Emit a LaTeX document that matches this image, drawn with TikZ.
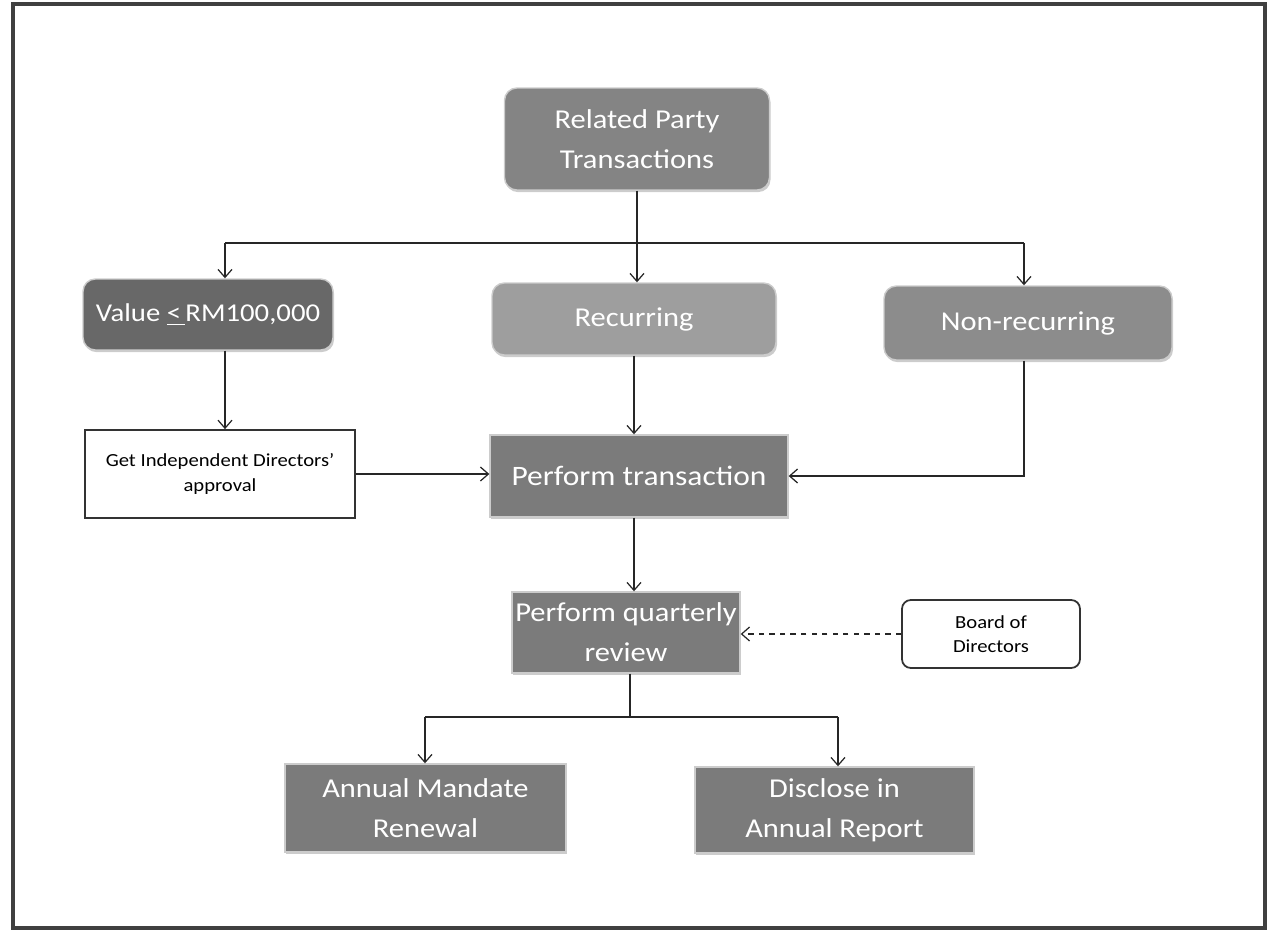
\documentclass[tikz,border=0pt]{standalone}
\usepackage{fontspec}
\setmainfont{Carlito}[FakeStretch=1.12]
\usetikzlibrary{arrows.meta,shadows}

\definecolor{rptgrey}{HTML}{848484}
\definecolor{valgrey}{HTML}{686868}
\definecolor{recgrey}{HTML}{9E9E9E}
\definecolor{nongrey}{HTML}{8C8C8C}
\definecolor{boxgrey}{HTML}{7B7B7B}

\begin{document}
\begin{tikzpicture}[x=0.02cm,y=-0.02cm,
		>={Straight Barb[length=1.6mm,width=2.8mm]},
		grey box/.style={draw=black!20, line width=0.8pt, text=white, align=center,
			font=\fontsize{15.5}{22.7}\selectfont, inner sep=0pt,
			drop shadow={shadow xshift=0.6pt, shadow yshift=-1.2pt, opacity=0.4}},
		round box/.style={grey box, rounded corners=7pt},
		note box/.style={draw=black!80, line width=1pt, fill=white, align=center,
			font=\fontsize{10.5}{13.8}\selectfont, inner sep=0pt},
		link/.style={->, line width=0.7pt, draw=black!85}]
		\useasboundingbox (0,0) rectangle (1279,933);
		\draw[line width=2pt, black!75] (13,4) rectangle (1265,928);

		\draw (637,139) node[round box, fill=rptgrey, minimum width=5.3cm, minimum height=2.04cm] (rpt) {Related Party\\Transactions};

		\draw (208,314.5) node[round box, fill=valgrey, minimum width=5cm, minimum height=1.42cm, font=\fontsize{14.6}{20}\selectfont] (val) {Value \underline{<\,}RM100,000};
		\draw (634,319) node[round box, fill=recgrey, minimum width=5.68cm, minimum height=1.44cm] (rec) {Recurring};
		\draw (1028,323) node[round box, fill=nongrey, minimum width=5.76cm, minimum height=1.48cm] (nonrec) {Non-recurring};

		\draw (220,474) node[note box, minimum width=5.4cm, minimum height=1.76cm] (getapp) {Get Independent Directors’\\approval};
		\draw (639,476) node[grey box, fill=boxgrey, minimum width=5.96cm, minimum height=1.64cm, font=\fontsize{16}{22}\selectfont] (perf) {Perform transaction};

		\draw (626,632.5) node[grey box, fill=boxgrey, minimum width=4.56cm, minimum height=1.62cm] (qrev) {Perform quarterly\\review};
		\draw (991,634) node[note box, rounded corners=5pt, minimum width=3.56cm, minimum height=1.36cm] (board) {Board of\\Directors};

		\draw (425.5,808) node[grey box, fill=boxgrey, minimum width=5.62cm, minimum height=1.76cm] (amr) {Annual Mandate\\Renewal};
		\draw (834.5,810) node[grey box, fill=boxgrey, minimum width=5.58cm, minimum height=1.72cm] (dar) {Disclose in\\Annual Report};

		\coordinate (split) at (637,243);
		\coordinate (lsplit) at (225,243);
		\coordinate (rsplit) at (1024,243);
		\coordinate (bsplit) at (630,717);
		\coordinate (amrtop) at (425,717);
		\coordinate (dartop) at (838,717);

		\draw[line width=0.7pt, black!85] (rpt.south) -- (split);
		\draw[line width=0.7pt, black!85] (lsplit) -- (rsplit);
		\draw[link] (lsplit) -- (lsplit |- val.north);
		\draw[link] (split) -- (split |- rec.north);
		\draw[link] (rsplit) -- (rsplit |- nonrec.north);

		\draw[link] (lsplit |- val.south) -- (lsplit |- getapp.north);
		\draw[link] (rec.south) -- (rec.south |- perf.north);
		\draw[link] (rsplit |- nonrec.south) |- (perf.east);
		\draw[link] (getapp.east) -- (getapp.east -| perf.west);

		\draw[link] (rec.south |- perf.south) -- (rec.south |- qrev.north);
		\draw[link, dashed] (board.west) -- (board.west -| qrev.east);

		\draw[line width=0.7pt, black!85] (bsplit |- qrev.south) -- (bsplit);
		\draw[line width=0.7pt, black!85] (amrtop) -- (dartop);
		\draw[link] (amrtop) -- (amrtop |- amr.north);
		\draw[link] (dartop) -- (dartop |- dar.north);
	\end{tikzpicture}
\end{document}
